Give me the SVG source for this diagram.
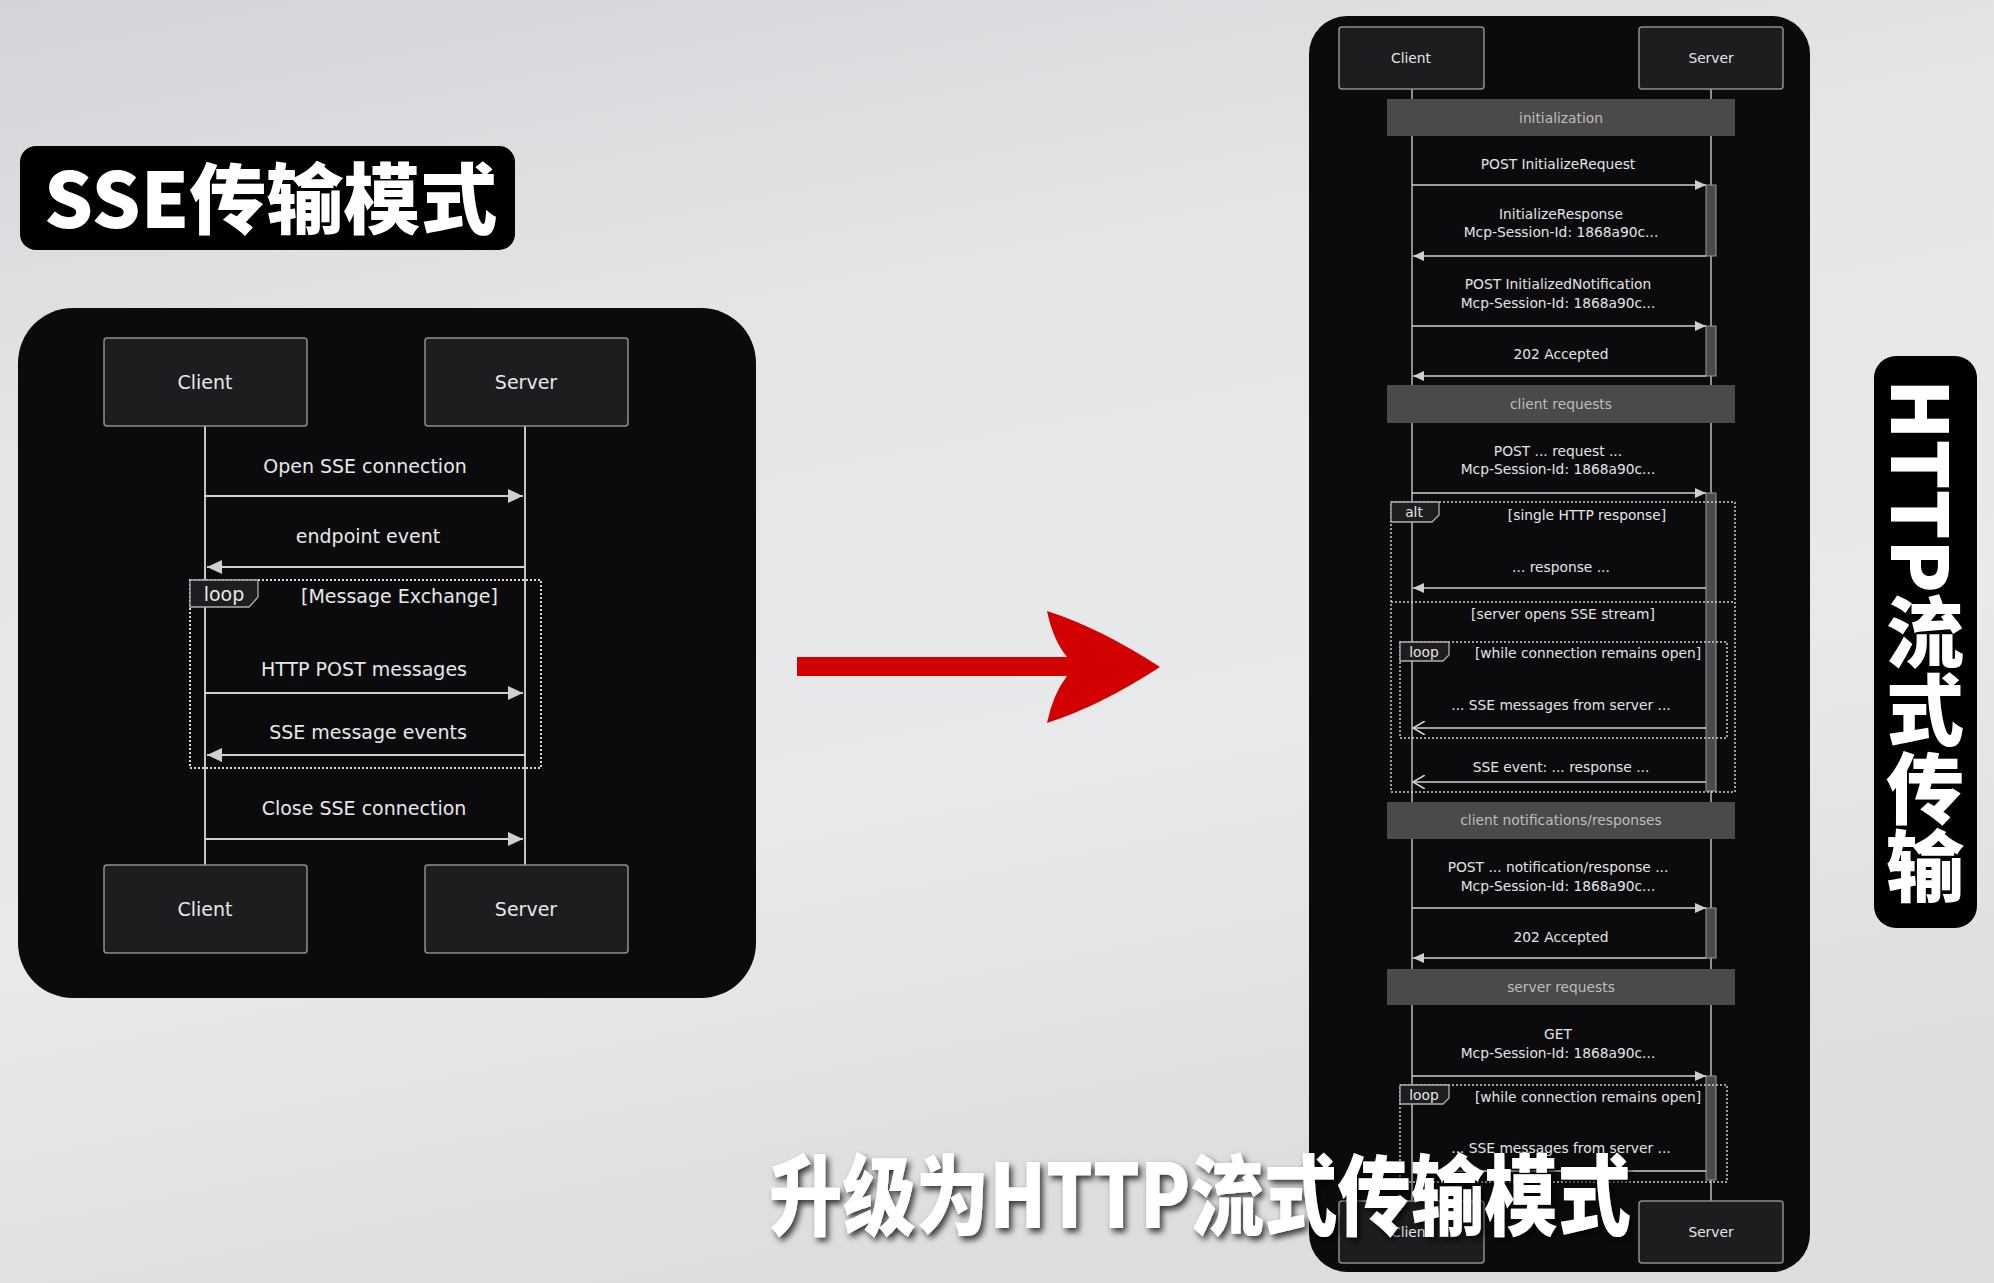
<svg xmlns="http://www.w3.org/2000/svg" width="1994" height="1283" viewBox="0 0 1994 1283">
<defs>
<linearGradient id="bg" x1="0" y1="0" x2="0.3" y2="1">
<stop offset="0" stop-color="#d2d4d7"/>
<stop offset="0.35" stop-color="#e4e6e8"/>
<stop offset="0.7" stop-color="#e8e9eb"/>
<stop offset="1" stop-color="#dcdee0"/>
</linearGradient>
<filter id="shadow" x="-5%" y="-20%" width="110%" height="150%">
<feDropShadow dx="3" dy="4" stdDeviation="3" flood-color="#000" flood-opacity="0.75"/>
</filter>
<marker id="aL" markerUnits="userSpaceOnUse" markerWidth="16" markerHeight="14" refX="15" refY="7" orient="auto">
<path d="M0,0 L15,7 L0,14 Z" fill="#d0d0d0"/>
</marker>
<marker id="aS" markerUnits="userSpaceOnUse" markerWidth="12" markerHeight="10" refX="11" refY="5" orient="auto">
<path d="M0,0 L11,5 L0,10 Z" fill="#cfcfcf"/>
</marker>
<marker id="aO" markerUnits="userSpaceOnUse" markerWidth="14" markerHeight="14" refX="12" refY="7" orient="auto">
<path d="M0,0 L12,7 L0,14" fill="none" stroke="#cfcfcf" stroke-width="1.6"/>
</marker>
</defs>
<style>
.panel{fill:#0b0b0d}
.actor{fill:#1d1d1f;stroke:#8e8e8e;stroke-width:1.5}
.life{stroke:#c4c4c4;stroke-width:2}
.lifeS{stroke:#bdbdbd;stroke-width:1.5}
.msgL{stroke:#d0d0d0;stroke-width:2;fill:none}
.msgS{stroke:#cfcfcf;stroke-width:1.6;fill:none}
.tL{font-family:"DejaVu Sans",sans-serif;font-size:19px;fill:#e8e8e8;text-anchor:middle;dominant-baseline:central}
.tS{font-family:"DejaVu Sans",sans-serif;font-size:13.8px;fill:#e4e4e4;text-anchor:middle;dominant-baseline:central}
.band{fill:#4a4a4a}
.tB{font-family:"DejaVu Sans",sans-serif;font-size:13.8px;fill:#bdbdbd;text-anchor:middle;dominant-baseline:central}
.frameL{fill:none;stroke:#d8d8d8;stroke-width:2;stroke-dasharray:2 2}
.frameS{fill:none;stroke:#d0d0d0;stroke-width:1.5;stroke-dasharray:2 2}
.tab{fill:#1e1e20;stroke:#b0b0b0;stroke-width:1.3}
.act{fill:#4a4a4c;stroke:#9a9a9a;stroke-width:1}
.big{font-family:"Noto Sans CJK SC",sans-serif;font-weight:900;fill:#ffffff}
</style>

<rect width="1994" height="1283" fill="url(#bg)"/>

<!-- Title -->
<g id="title-sse">
<rect x="20" y="146" width="495" height="104" rx="16" fill="#000"/>
<text class="big" x="44" y="228" font-size="77">SSE传输模式</text>
</g>

<!-- Left SSE sequence diagram -->
<g id="sse-panel">
<rect class="panel" x="18" y="308" width="738" height="690" rx="55"/>
</g>
<g id="sse-lifelines">
<line class="life" x1="205" y1="426" x2="205" y2="865"/>
<line class="life" x1="525" y1="426" x2="525" y2="865"/>
</g>
<g id="sse-client-top"><rect class="actor" x="104" y="338" width="203" height="88" rx="3"/><text class="tL" x="205" y="382">Client</text></g>
<g id="sse-server-top"><rect class="actor" x="425" y="338" width="203" height="88" rx="3"/><text class="tL" x="526" y="382">Server</text></g>
<g id="sse-client-bottom"><rect class="actor" x="104" y="865" width="203" height="88" rx="3"/><text class="tL" x="205" y="909">Client</text></g>
<g id="sse-server-bottom"><rect class="actor" x="425" y="865" width="203" height="88" rx="3"/><text class="tL" x="526" y="909">Server</text></g>
<g id="sse-loop">
<rect class="frameL" x="190" y="580" width="351" height="188"/>
<polygon class="tab" points="190,580 258,580 258,597 249,607 190,607"/>
<text class="tL" x="224" y="594">loop</text>
<text class="tL" x="399.5" y="596">[Message Exchange]</text>
</g>
<g id="sse-connectors">
<line class="msgL" x1="205" y1="496" x2="523" y2="496" marker-end="url(#aL)"/>
<line class="msgL" x1="525" y1="567" x2="207" y2="567" marker-end="url(#aL)"/>
<line class="msgL" x1="205" y1="693" x2="523" y2="693" marker-end="url(#aL)"/>
<line class="msgL" x1="525" y1="755" x2="207" y2="755" marker-end="url(#aL)"/>
<line class="msgL" x1="205" y1="839" x2="523" y2="839" marker-end="url(#aL)"/>
<text class="tL" x="365" y="466">Open SSE connection</text>
<text class="tL" x="368" y="536">endpoint event</text>
<text class="tL" x="364" y="669">HTTP POST messages</text>
<text class="tL" x="368" y="732">SSE message events</text>
<text class="tL" x="364" y="808">Close SSE connection</text>
</g>

<!-- Red arrow -->
<g id="red-arrow">
<path d="M797,657 L1067,657 Q1053,640 1047,611 Q1100,628 1160,667 Q1100,706 1047,723 Q1053,694 1067,676 L797,676 Z" fill="#d20000"/>
</g>

<!-- Right HTTP streamable diagram -->
<g id="http-panel">
<rect class="panel" x="1309" y="16" width="501" height="1256" rx="38"/>
</g>
<g id="http-lifelines">
<line class="lifeS" x1="1412" y1="89" x2="1412" y2="1201"/>
<line class="lifeS" x1="1711" y1="89" x2="1711" y2="1201"/>
</g>
<g id="http-client-top"><rect class="actor" x="1339" y="27" width="145" height="62" rx="3"/><text class="tS" x="1411" y="58">Client</text></g>
<g id="http-server-top"><rect class="actor" x="1639" y="27" width="144" height="62" rx="3"/><text class="tS" x="1711" y="58">Server</text></g>

<g id="band-initialization"><rect class="band" x="1387" y="99" width="348" height="37"/><text class="tB" x="1561" y="117.5">initialization</text></g>
<g id="band-client-requests"><rect class="band" x="1387" y="385" width="348" height="38"/><text class="tB" x="1561" y="404">client requests</text></g>
<g id="band-client-notifications"><rect class="band" x="1387" y="802" width="348" height="37"/><text class="tB" x="1561" y="820">client notifications/responses</text></g>
<g id="band-server-requests"><rect class="band" x="1387" y="969" width="348" height="36"/><text class="tB" x="1561" y="987">server requests</text></g>

<g id="activations">
<rect class="act" x="1706" y="185" width="10" height="71"/>
<rect class="act" x="1706" y="326" width="10" height="50"/>
<rect class="act" x="1706" y="493" width="10" height="298"/>
<rect class="act" x="1706" y="908" width="10" height="50"/>
<rect class="act" x="1706" y="1076" width="10" height="104"/>
</g>

<g id="alt-frame">
<rect class="frameS" x="1391" y="502" width="344" height="290"/>
<line class="frameS" x1="1391" y1="602" x2="1735" y2="602"/>
<polygon class="tab" points="1391,502 1439,502 1439,515 1432,522 1391,522"/>
<text class="tS" x="1414" y="512">alt</text>
<text class="tS" x="1587" y="515">[single HTTP response]</text>
<text class="tS" x="1563" y="614">[server opens SSE stream]</text>
</g>
<g id="loop-frame-1">
<rect class="frameS" x="1400" y="642" width="327" height="96"/>
<polygon class="tab" points="1400,642 1449,642 1449,655 1443,661 1400,661"/>
<text class="tS" x="1424" y="652">loop</text>
<text class="tS" x="1588" y="653">[while connection remains open]</text>
</g>
<g id="loop-frame-2">
<rect class="frameS" x="1400" y="1085" width="327" height="97"/>
<polygon class="tab" points="1400,1085 1449,1085 1449,1098 1443,1104 1400,1104"/>
<text class="tS" x="1424" y="1095">loop</text>
<text class="tS" x="1588" y="1097">[while connection remains open]</text>
</g>

<g id="http-connectors">
<line class="msgS" x1="1412" y1="185" x2="1706" y2="185" marker-end="url(#aS)"/>
<line class="msgS" x1="1706" y1="256" x2="1413" y2="256" marker-end="url(#aS)"/>
<line class="msgS" x1="1412" y1="326" x2="1706" y2="326" marker-end="url(#aS)"/>
<line class="msgS" x1="1706" y1="376" x2="1413" y2="376" marker-end="url(#aS)"/>
<line class="msgS" x1="1412" y1="493" x2="1706" y2="493" marker-end="url(#aS)"/>
<line class="msgS" x1="1706" y1="588" x2="1413" y2="588" marker-end="url(#aS)"/>
<line class="msgS" x1="1706" y1="728" x2="1413" y2="728" marker-end="url(#aO)"/>
<line class="msgS" x1="1706" y1="782" x2="1413" y2="782" marker-end="url(#aO)"/>
<line class="msgS" x1="1412" y1="908" x2="1706" y2="908" marker-end="url(#aS)"/>
<line class="msgS" x1="1706" y1="958" x2="1413" y2="958" marker-end="url(#aS)"/>
<line class="msgS" x1="1412" y1="1076" x2="1706" y2="1076" marker-end="url(#aS)"/>
<line class="msgS" x1="1706" y1="1171" x2="1413" y2="1171" marker-end="url(#aO)"/>
<text class="tS" x="1558" y="164">POST InitializeRequest</text>
<text class="tS" x="1561" y="214">InitializeResponse</text>
<text class="tS" x="1561" y="232">Mcp-Session-Id: 1868a90c...</text>
<text class="tS" x="1558" y="284">POST InitializedNotification</text>
<text class="tS" x="1558" y="303">Mcp-Session-Id: 1868a90c...</text>
<text class="tS" x="1561" y="354">202 Accepted</text>
<text class="tS" x="1558" y="451">POST ... request ...</text>
<text class="tS" x="1558" y="469">Mcp-Session-Id: 1868a90c...</text>
<text class="tS" x="1561" y="567">... response ...</text>
<text class="tS" x="1561" y="705">... SSE messages from server ...</text>
<text class="tS" x="1561" y="767">SSE event: ... response ...</text>
<text class="tS" x="1558" y="867">POST ... notification/response ...</text>
<text class="tS" x="1558" y="886">Mcp-Session-Id: 1868a90c...</text>
<text class="tS" x="1561" y="937">202 Accepted</text>
<text class="tS" x="1558" y="1034">GET</text>
<text class="tS" x="1558" y="1053">Mcp-Session-Id: 1868a90c...</text>
<text class="tS" x="1561" y="1148">... SSE messages from server ...</text>
</g>

<g id="http-client-bottom"><rect class="actor" x="1339" y="1201" width="145" height="62" rx="3"/><text class="tS" x="1411" y="1232">Client</text></g>
<g id="http-server-bottom"><rect class="actor" x="1639" y="1201" width="144" height="62" rx="3"/><text class="tS" x="1711" y="1232">Server</text></g>

<!-- Vertical label -->
<g id="label-http-stream">
<rect x="1874" y="356" width="103" height="572" rx="22" fill="#000"/>
<text class="big" x="1925" y="642" font-size="78" text-anchor="middle" style="writing-mode:vertical-rl">HTTP流式传输</text>
</g>

<!-- Caption -->
<g id="caption">
<text class="big" x="1200" y="1228" font-size="88" text-anchor="middle" textLength="862" lengthAdjust="spacingAndGlyphs" filter="url(#shadow)">升级为HTTP流式传输模式</text>
</g>
</svg>
